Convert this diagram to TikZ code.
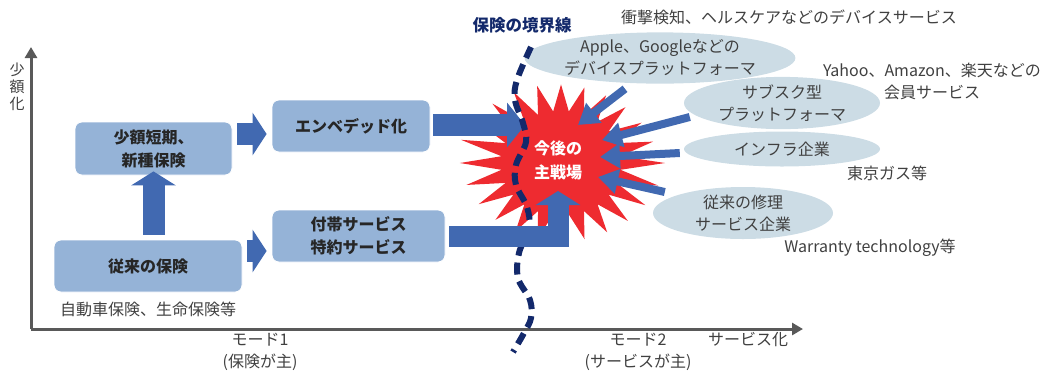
\documentclass[tikz,border=0pt]{standalone}
\usepackage{fontspec}
\setmainfont{Noto Sans CJK JP}
\usetikzlibrary{arrows.meta,calc,shapes.geometric}
\definecolor{boxblue}{HTML}{95B3D7}
\definecolor{arrblue}{HTML}{4169B1}
\definecolor{ellfill}{HTML}{CCDCE5}
\definecolor{navy}{HTML}{13296B}
\definecolor{starred}{HTML}{EE2B30}
\definecolor{txt}{HTML}{404040}
\definecolor{axisgray}{HTML}{595959}
\begin{document}
\begin{tikzpicture}[x=1pt,y=-1pt,
 box/.style={draw=white, line width=0.8pt, fill=boxblue, rounded corners=7pt, align=center, text=black!85, font=\fontsize{16}{23}\selectfont\bfseries, inner sep=0pt},
 ell/.style={ellipse, fill=ellfill, inner sep=0pt, align=center, text=txt, font=\fontsize{16}{22}\selectfont},
 lbl/.style={align=center, text=txt, font=\fontsize{16}{22}\selectfont, inner sep=0pt},
 fat/.style={draw=arrblue, line width=22pt},
 feed/.style={draw=arrblue, line width=8pt, -{Triangle[width=24pt,length=20pt]}},
 axisline/.style={draw=axisgray, line width=3pt, -{Triangle[width=12pt,length=11pt]}}]
\useasboundingbox (0,0) rectangle (1049,376);

% axes
\coordinate (O) at (31,329);
\coordinate (ytip) at (31,47);
\coordinate (xtip) at (803,329);
\draw[axisline] (O) -- (ytip);
\draw[axisline] (O) -- (xtip);
\node[lbl, font=\fontsize{15}{17}\selectfont] (ylab) at (17,87) {少\\額\\化};

% ellipses
\node[ell, minimum width=226pt, minimum height=49pt] (apple) at (660,58) {Apple、Googleなどの\\デバイスプラットフォーマ};
\node[ell, minimum width=196pt, minimum height=50pt] (sub) at (782,103) {サブスク型\\プラットフォーマ};
\node[ell, minimum width=196pt, minimum height=35pt] (infra) at (782,149) {インフラ企業};
\node[ell, minimum width=180pt, minimum height=52pt] (rep) at (743,213) {従来の修理\\サービス企業};

% star
\coordinate (star) at (561,163);
\gdef\starpath{(665,163)}
\foreach \i in {1,...,47}{%
  \pgfmathsetmacro\ang{\i*7.5}%
  \ifodd\i \gdef\srx{60}\gdef\sry{52}\else
    \pgfmathsetmacro\jit{abs(sin(\i*97))}%
    \pgfmathsetmacro\srx{104-14*\jit}\pgfmathsetmacro\sry{90-12*\jit}\fi
  \pgfmathsetmacro\px{561+\srx*cos(\ang)}%
  \pgfmathsetmacro\py{163+\sry*sin(\ang)}%
  \xdef\starpath{\starpath -- (\px,\py)}%
}
\fill[starred] \starpath -- cycle;
\node[align=center, text=white, inner sep=0pt, font=\fontsize{16}{24}\selectfont\bfseries] (main) at (558,160) {今後の\\主戦場};

% boxes
\node[box, minimum width=157pt, minimum height=53pt] (small) at (153.5,148.5) {少額短期、\\新種保険};
\node[box, minimum width=188pt, minimum height=52pt] (trad) at (148,266) {従来の保険};
\node[box, minimum width=158pt, minimum height=52pt] (emb) at (351,126) {エンベデッド化};
\node[box, minimum width=173pt, minimum height=52pt] (sup) at (358.5,236) {付帯サービス\\特約サービス};

% block arrows between boxes
\draw[fat, -{Triangle[width=44pt,length=14pt]}] ($(trad.north -| small.south)+(0,-5)$) -- ($(small.south)+(0,-4)$);
\draw[fat, -{Triangle[width=42pt,length=14pt]}] ($(small.east)+(5,-14.5)$) -- ($(emb.west)+(-5,8)$);
\draw[fat, -{Triangle[width=42pt,length=14pt]}] ($(trad.east)+(5,-15)$) -- ($(sup.west)+(-5,15)$);

% arrow into the star
\coordinate (embtip) at (525,125);
\draw[fat, -{Triangle[width=44pt,length=18pt]}] ($(emb.east)+(3,-1)$) -- (embtip);

% feeding arrows
\coordinate (t1) at (578,125);
\coordinate (t2) at (602,140);
\coordinate (t3) at (600,157);
\coordinate (t4) at (598,177);
\draw[feed] ($(apple.south)+(-35,5)$) -- (t1);
\draw[feed] ($(sub.west)+(6,14)$) -- (t2);
\draw[feed] ($(infra.west)+(-4,4)$) -- (t3);
\draw[feed] ($(rep.west)+(12,-21)$) -- (t4);

% boundary
\draw[navy, line width=6pt, dash pattern=on 12pt off 7pt] plot[smooth, tension=0.6] coordinates {(531,47) (517,80) (515,100) (523,123) (526,142) (516,165) (516,185) (527,207) (529,228) (519,253) (518,278) (530,300) (531,318) (524,333) (513,352)};
\node[text=navy, inner sep=0pt, font=\fontsize{16.5}{20}\selectfont\bfseries] (border) at (522,25) {保険の境界線};

% L-shaped arrow
\coordinate (ltip) at (558,191);
\draw[fat, line width=21pt, line join=miter, -{Triangle[width=44pt,length=14pt]}] ($(sup.east)+(4,0)$) -| (ltip);

% labels
\node[lbl] (cars) at (148,309) {自動車保険、生命保険等};
\node[lbl] (m1) at (260,351.5) {モード1\\(保険が主)};
\node[lbl] (m2) at (638,351.5) {モード2\\(サービスが主)};
\node[lbl] (svc) at (748,340) {サービス化};
\node[lbl] (shock) at (789,17) {衝撃検知、ヘルスケアなどのデバイスサービス};
\node[lbl] (yahoo) at (932,81) {Yahoo、Amazon、楽天などの\\会員サービス};
\node[lbl] (gas) at (887,173) {東京ガス等};
\node[lbl] (warr) at (870,248) {Warranty technology等};
\end{tikzpicture}
\end{document}
